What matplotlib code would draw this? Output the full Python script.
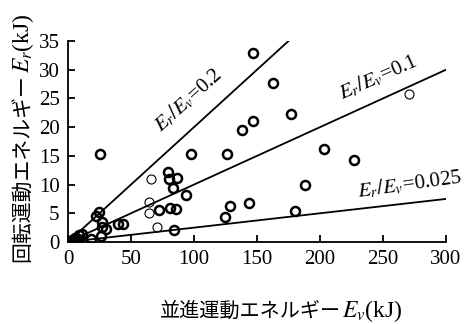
import matplotlib
matplotlib.use("Agg")
from matplotlib import pyplot as plt
import numpy as np

# translational energy Ev (kJ), rotational energy Er (kJ)
ev_thick = [147, 163, 138, 147, 177, 203, 227, 188, 180, 97.6, 126, 25,
            79, 80.5, 86.5, 83.5, 93.5, 72, 81, 85.7, 84, 124.6, 128.6, 143.7,
            24.6, 22, 27, 27, 30, 40, 44, 26, 18, 9, 11, 5.5, 3, 8]
er_thick = [32.9, 27.7, 19.5, 21.1, 22.3, 16.2, 14.3, 9.9, 5.4, 15.3, 15.3, 15.3,
            12.2, 11.0, 11.2, 9.4, 8.2, 5.5, 5.9, 5.8, 2.1, 4.3, 6.3, 6.8,
            5.3, 4.5, 3.5, 2.6, 2.3, 3.1, 3.1, 1.1, 0.5, 1.2, 1.4, 0.7, 0.3, 0.5]
ev_thin = [66, 64, 64, 70.5, 271]
er_thin = [11.0, 7.0, 5.1, 2.6, 25.8]

ratios = [0.2, 0.1, 0.025]
ratio_xmax = [175, 300, 300]
ratio_labels = ['$E_r/E_v$=0.2', '$E_r/E_v$=0.1', '$E_r/E_v$=0.025']

xticks = [0, 50, 100, 150, 200, 250, 300]
yticks = [0, 5, 10, 15, 20, 25, 30, 35]

xlabel_jp, xlabel_unit = '並進運動エネルギー', '$E_v$(kJ)'
ylabel_jp, ylabel_unit = '回転運動エネルギー', '$E_r$(kJ)'

plt.rcParams['font.family'] = ['Liberation Serif']
plt.rcParams['mathtext.fontset'] = 'stix'

W, H = 471, 324
fig = plt.figure(figsize=(W / 100, H / 100), dpi=100)
ax = fig.add_axes([68 / W, 82 / H, 378 / W, 201 / H])

for r, xm in zip(ratios, ratio_xmax):
    xs = np.array([0, xm])
    ax.plot(xs, r * xs, color='black', lw=1.3)

ax.plot(ev_thick, er_thick, 'o', ms=6.5, mfc='none', mec='black', mew=1.8)
ax.plot(ev_thin, er_thin, 'o', ms=6.5, mfc='none', mec='black', mew=0.8)

ax.text(95, 24.7, ratio_labels[0], rotation=42, ha='center', va='center', fontsize=15)
ax.text(246, 28.6, ratio_labels[1], rotation=24, ha='center', va='center', fontsize=15)
ax.text(271, 10.0, ratio_labels[2], rotation=8, ha='center', va='center', fontsize=15)

ax.set_xlim(0, 300)
ax.set_ylim(0, 35)
ax.set_xticks(xticks)
ax.set_yticks(yticks)
ax.spines['top'].set_visible(False)
ax.spines['right'].set_visible(False)
ax.spines['left'].set_linewidth(1.3)
ax.spines['bottom'].set_linewidth(1.3)
ax.tick_params(direction='in', length=5, width=1.3, labelsize=15, pad=6)

renderer = fig.canvas.get_renderer()

# x label: Japanese part, then the symbol/unit part right after it
t = fig.text(160 / W, 1 - 317 / H, xlabel_jp, ha='left', va='baseline',
             fontsize=14.5, family='Noto Sans CJK JP')
bb = t.get_window_extent(renderer)
fig.text(bb.x1 / W + 1 / W, 1 - 317 / H, xlabel_unit, ha='left', va='baseline', fontsize=17)

# y label, rotated
t = fig.text(28 / W, 1 - 262 / H, ylabel_jp, ha='left', va='baseline', rotation=90,
             rotation_mode='anchor', fontsize=15, family='Noto Sans CJK JP')
bb = t.get_window_extent(renderer)
fig.text(29 / W, bb.y1 / H + 1 / H, ylabel_unit, ha='left', va='baseline', rotation=90,
         rotation_mode='anchor', fontsize=17)

fig.savefig('out.png', dpi=100)
